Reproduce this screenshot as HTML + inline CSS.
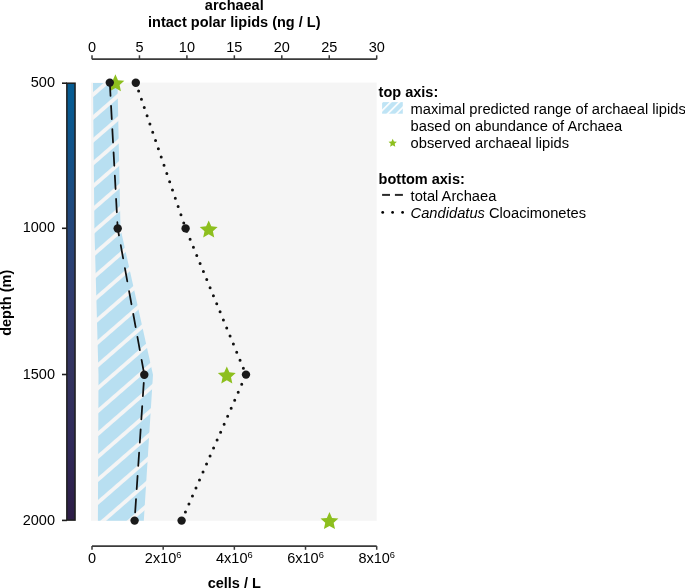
<!DOCTYPE html>
<html><head><meta charset="utf-8"><style>html,body{margin:0;padding:0;background:#fff;overflow:hidden}</style></head>
<body>
<svg width="685" height="588" viewBox="0 0 685 588" style="display:block;will-change:transform">
<defs>
<linearGradient id="cb" x1="0" y1="0" x2="0" y2="1">
<stop offset="0" stop-color="#065c92"/>
<stop offset="0.04" stop-color="#075b92"/>
<stop offset="0.165" stop-color="#135288"/>
<stop offset="0.33" stop-color="#24467a"/>
<stop offset="0.507" stop-color="#323a6c"/>
<stop offset="0.667" stop-color="#33335f"/>
<stop offset="0.827" stop-color="#302a5a"/>
<stop offset="1" stop-color="#2d1d46"/>
</linearGradient>
<pattern id="hatch" patternUnits="userSpaceOnUse" width="17.28" height="20" patternTransform="rotate(49)">
<rect x="0" y="0" width="17.28" height="20" fill="#b8dff1"/>
<rect x="9.63" y="0" width="3.8" height="20" fill="#f5f5f5"/>
</pattern>
<pattern id="hatch2" patternUnits="userSpaceOnUse" width="6.19" height="20" patternTransform="rotate(45)">
<rect x="0" y="0" width="6.19" height="20" fill="#bfe4f5"/>
<rect x="0.95" y="0" width="1.6" height="20" fill="#ffffff"/>
</pattern>
</defs>
<rect width="685" height="588" fill="#ffffff"/>
<rect x="91" y="82.6" width="285.7" height="438.19999999999993" fill="#f5f5f5"/>
<polygon points="93.0,83.1 94.4,228.5 98.5,374.7 97.9,520.8 143.8,520.8 153.0,374.7 120.5,228.5 117.5,83.1" fill="url(#hatch)"/>
<polygon points="115.40,74.30 118.00,80.13 124.34,80.80 119.60,85.07 120.93,91.30 115.40,88.12 109.87,91.30 111.20,85.07 106.46,80.80 112.80,80.13" fill="#8dbf1e"/>
<polygon points="208.70,220.50 211.30,226.33 217.64,227.00 212.90,231.27 214.23,237.50 208.70,234.32 203.17,237.50 204.50,231.27 199.76,227.00 206.10,226.33" fill="#8dbf1e"/>
<polygon points="226.80,366.50 229.40,372.33 235.74,373.00 231.00,377.27 232.33,383.50 226.80,380.32 221.27,383.50 222.60,377.27 217.86,373.00 224.20,372.33" fill="#8dbf1e"/>
<polygon points="329.45,512.10 332.05,517.93 338.39,518.60 333.65,522.87 334.98,529.10 329.45,525.92 323.92,529.10 325.25,522.87 320.51,518.60 326.85,517.93" fill="#8dbf1e"/>
<polyline points="109.8,82.6 117.7,228.5 144.3,374.7 134.6,520.6" fill="none" stroke="#111" stroke-width="1.75" stroke-linecap="round" stroke-dasharray="13.4 9.9"/>
<polyline points="135.8,82.8 185.6,228.4 246.0,374.6 181.6,520.6" fill="none" stroke="#111" stroke-width="3.0" stroke-linecap="round" stroke-dasharray="0 8.72"/>
<circle cx="109.8" cy="82.6" r="4.2" fill="#1a1a1a"/>
<circle cx="117.7" cy="228.5" r="4.2" fill="#1a1a1a"/>
<circle cx="144.3" cy="374.7" r="4.2" fill="#1a1a1a"/>
<circle cx="134.6" cy="520.6" r="4.2" fill="#1a1a1a"/>
<circle cx="135.8" cy="82.8" r="4.2" fill="#1a1a1a"/>
<circle cx="185.6" cy="228.4" r="4.2" fill="#1a1a1a"/>
<circle cx="246.0" cy="374.6" r="4.2" fill="#1a1a1a"/>
<circle cx="181.6" cy="520.6" r="4.2" fill="#1a1a1a"/>
<rect x="66.85" y="83.2" width="8.2" height="436.9" fill="url(#cb)" stroke="#1e1e1e" stroke-width="1.5"/>
<line x1="62" y1="83.2" x2="67" y2="83.2" stroke="#1e1e1e" stroke-width="1.6"/>
<text x="55" y="87.3" text-anchor="end" font-family="Liberation Sans, sans-serif" font-size="14.5" fill="#000">500</text>
<line x1="62" y1="228.3" x2="67" y2="228.3" stroke="#1e1e1e" stroke-width="1.6"/>
<text x="55" y="232.4" text-anchor="end" font-family="Liberation Sans, sans-serif" font-size="14.5" fill="#000">1000</text>
<line x1="62" y1="374.5" x2="67" y2="374.5" stroke="#1e1e1e" stroke-width="1.6"/>
<text x="55" y="378.6" text-anchor="end" font-family="Liberation Sans, sans-serif" font-size="14.5" fill="#000">1500</text>
<line x1="62" y1="520.4" x2="67" y2="520.4" stroke="#1e1e1e" stroke-width="1.6"/>
<text x="55" y="524.5" text-anchor="end" font-family="Liberation Sans, sans-serif" font-size="14.5" fill="#000">2000</text>
<text transform="translate(10.5,302.8) rotate(-90)" text-anchor="middle" font-family="Liberation Sans, sans-serif" font-size="14.5" font-weight="bold" fill="#000">depth (m)</text>
<line x1="92.0" y1="59.2" x2="376.7" y2="59.2" stroke="#3a3a3a" stroke-width="1.7"/>
<line x1="92.00" y1="55.3" x2="92.00" y2="59.2" stroke="#3a3a3a" stroke-width="1.5"/>
<text x="92.00" y="52.4" text-anchor="middle" font-family="Liberation Sans, sans-serif" font-size="14.5" fill="#000">0</text>
<line x1="139.45" y1="55.3" x2="139.45" y2="59.2" stroke="#3a3a3a" stroke-width="1.5"/>
<text x="139.45" y="52.4" text-anchor="middle" font-family="Liberation Sans, sans-serif" font-size="14.5" fill="#000">5</text>
<line x1="186.90" y1="55.3" x2="186.90" y2="59.2" stroke="#3a3a3a" stroke-width="1.5"/>
<text x="186.90" y="52.4" text-anchor="middle" font-family="Liberation Sans, sans-serif" font-size="14.5" fill="#000">10</text>
<line x1="234.35" y1="55.3" x2="234.35" y2="59.2" stroke="#3a3a3a" stroke-width="1.5"/>
<text x="234.35" y="52.4" text-anchor="middle" font-family="Liberation Sans, sans-serif" font-size="14.5" fill="#000">15</text>
<line x1="281.80" y1="55.3" x2="281.80" y2="59.2" stroke="#3a3a3a" stroke-width="1.5"/>
<text x="281.80" y="52.4" text-anchor="middle" font-family="Liberation Sans, sans-serif" font-size="14.5" fill="#000">20</text>
<line x1="329.25" y1="55.3" x2="329.25" y2="59.2" stroke="#3a3a3a" stroke-width="1.5"/>
<text x="329.25" y="52.4" text-anchor="middle" font-family="Liberation Sans, sans-serif" font-size="14.5" fill="#000">25</text>
<line x1="376.70" y1="55.3" x2="376.70" y2="59.2" stroke="#3a3a3a" stroke-width="1.5"/>
<text x="376.70" y="52.4" text-anchor="middle" font-family="Liberation Sans, sans-serif" font-size="14.5" fill="#000">30</text>
<text x="234.3" y="10.2" text-anchor="middle" font-family="Liberation Sans, sans-serif" font-size="14.5" font-weight="bold" fill="#000">archaeal</text>
<text x="234.3" y="27.2" text-anchor="middle" font-family="Liberation Sans, sans-serif" font-size="14.5" font-weight="bold" fill="#000">intact polar lipids (ng / L)</text>
<line x1="92.0" y1="546.1" x2="376.7" y2="546.1" stroke="#3a3a3a" stroke-width="1.7"/>
<line x1="92.00" y1="546.1" x2="92.00" y2="549.8" stroke="#3a3a3a" stroke-width="1.5"/>
<text x="92.00" y="563.1" text-anchor="middle" font-family="Liberation Sans, sans-serif" font-size="14.5" fill="#000">0</text>
<line x1="163.18" y1="546.1" x2="163.18" y2="549.8" stroke="#3a3a3a" stroke-width="1.5"/>
<text x="163.18" y="563.1" text-anchor="middle" font-family="Liberation Sans, sans-serif" font-size="14.5" fill="#000">2x10<tspan font-size="9.3" dy="-5.6">6</tspan></text>
<line x1="234.35" y1="546.1" x2="234.35" y2="549.8" stroke="#3a3a3a" stroke-width="1.5"/>
<text x="234.35" y="563.1" text-anchor="middle" font-family="Liberation Sans, sans-serif" font-size="14.5" fill="#000">4x10<tspan font-size="9.3" dy="-5.6">6</tspan></text>
<line x1="305.52" y1="546.1" x2="305.52" y2="549.8" stroke="#3a3a3a" stroke-width="1.5"/>
<text x="305.52" y="563.1" text-anchor="middle" font-family="Liberation Sans, sans-serif" font-size="14.5" fill="#000">6x10<tspan font-size="9.3" dy="-5.6">6</tspan></text>
<line x1="376.70" y1="546.1" x2="376.70" y2="549.8" stroke="#3a3a3a" stroke-width="1.5"/>
<text x="376.70" y="563.1" text-anchor="middle" font-family="Liberation Sans, sans-serif" font-size="14.5" fill="#000">8x10<tspan font-size="9.3" dy="-5.6">6</tspan></text>
<text x="234.3" y="588.2" text-anchor="middle" font-family="Liberation Sans, sans-serif" font-size="14.5" font-weight="bold" fill="#000">cells / L</text>
<text x="378.6" y="96.6" font-family="Liberation Sans, sans-serif" font-size="14.5" font-weight="bold" fill="#000">top axis:</text>
<rect x="382.1" y="102.1" width="20.7" height="11.6" fill="url(#hatch2)"/>
<text x="410.6" y="113.7" font-family="Liberation Sans, sans-serif" font-size="14.7" fill="#000">maximal predicted range of archaeal lipids</text>
<text x="410.6" y="130.9" font-family="Liberation Sans, sans-serif" font-size="14.7" fill="#000">based on abundance of Archaea</text>
<polygon points="392.70,138.70 393.92,141.43 396.88,141.74 394.67,143.74 395.29,146.66 392.70,145.17 390.11,146.66 390.73,143.74 388.52,141.74 391.48,141.43" fill="#8dbf1e"/>
<text x="410.6" y="148.1" font-family="Liberation Sans, sans-serif" font-size="14.7" fill="#000">observed archaeal lipids</text>
<text x="378.6" y="183.7" font-family="Liberation Sans, sans-serif" font-size="14.5" font-weight="bold" fill="#000">bottom axis:</text>
<line x1="382.1" y1="194.9" x2="390" y2="194.9" stroke="#2a2a2a" stroke-width="2"/>
<line x1="394.9" y1="194.9" x2="402.9" y2="194.9" stroke="#2a2a2a" stroke-width="2"/>
<text x="410.6" y="200.9" font-family="Liberation Sans, sans-serif" font-size="14.7" fill="#000">total Archaea</text>
<circle cx="382.7" cy="212.4" r="1.4" fill="#000"/>
<circle cx="392.6" cy="212.4" r="1.4" fill="#000"/>
<circle cx="402.6" cy="212.4" r="1.4" fill="#000"/>
<text x="410.6" y="218.3" font-family="Liberation Sans, sans-serif" font-size="14.7" fill="#000"><tspan font-style="italic">Candidatus</tspan> Cloacimonetes</text>
</svg>
</body></html>
